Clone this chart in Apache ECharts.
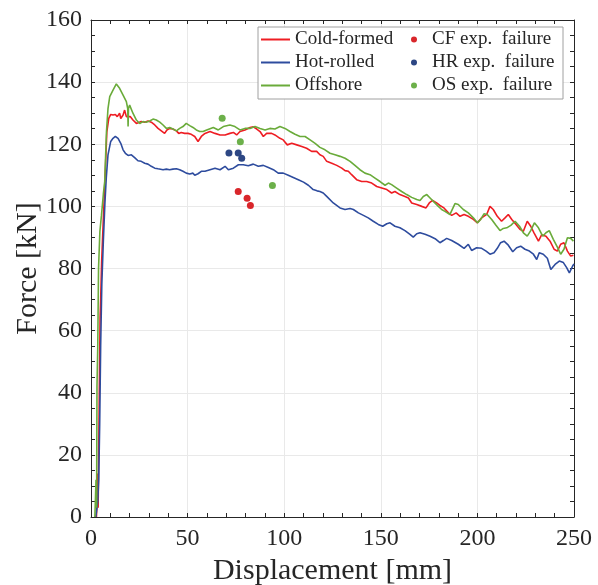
<!DOCTYPE html>
<html>
<head>
<meta charset="utf-8">
<script src="https://cdn.jsdelivr.net/npm/echarts@6/dist/echarts.min.js"></script>
<style>
  html, body { margin: 0; padding: 0; background: #fff; }
  #chart { width: 598px; height: 585px; }
</style>
</head>
<body>
<div id="chart"></div>
<script>
// ---- data ----
const xTicks = [0, 50, 100, 150, 200, 250];
const yTicks = [0, 20, 40, 60, 80, 100, 120, 140, 160];

const coldFormed = [[2.8,0],[3.3,7],[3.5,14],[3.7,3],[4.3,40],[4.7,64],[5.0,70],[5.5,82],[6.2,93],[7.0,105],[7.6,114.5],[8.2,124],[9.2,128.3],[10.2,129.6],[11.4,129.4],[12.6,129.6],[13.6,128.9],[14.8,130.0],[15.4,128.3],[16.6,129.4],[17.4,131.0],[18.3,128.9],[19.2,129.4],[20.3,128.9],[21.7,127.8],[23.5,126.7],[24.3,126.2],[26.0,127.3],[27.8,127.1],[29.5,127.5],[31.2,127.1],[33.0,126.2],[34.7,125.1],[36.4,124.3],[38.1,123.5],[39.3,124.6],[40.7,125.1],[42.4,124.9],[44.2,124.3],[45.4,123.5],[46.7,123.8],[48.5,123.5],[50.2,123.5],[51.9,123.2],[53.7,122.5],[55.4,120.9],[57.1,122.5],[59.0,123.5],[61.6,124.1],[64.2,123.5],[66.8,123.0],[69.4,123.0],[71.9,123.5],[73.7,123.8],[75.4,123.0],[77.1,124.1],[79.7,124.6],[82.3,125.4],[84.0,125.6],[85.8,124.9],[87.5,124.1],[89.2,122.5],[90.9,123.5],[93.5,123.5],[95.2,123.0],[97.8,121.9],[99.5,121.4],[101.6,119.8],[103.9,120.3],[106.5,119.8],[109.1,119.3],[111.6,118.7],[114.2,117.7],[116.8,117.7],[118.5,116.6],[120.2,116.1],[122.0,114.5],[124.6,113.9],[127.2,113.2],[129.8,112.3],[131.5,111.5],[133.2,111.3],[134.9,110.2],[137.5,108.6],[140.1,108.0],[142.7,108.0],[145.3,107.5],[147.9,106.4],[150.5,105.9],[153.1,105.4],[155.6,104.3],[157.3,104.8],[159.9,103.8],[162.5,103.2],[164.3,102.7],[166.0,101.1],[168.6,100.6],[171.2,100.0],[173.4,99.5],[175.1,101.1],[176.8,101.9],[178.9,101.1],[180.6,100.3],[182.7,99.5],[185.0,97.9],[186.7,97.1],[189.0,97.9],[191.0,96.8],[193.1,97.4],[195.3,96.8],[197.9,95.8],[200.0,94.7],[202.2,96.3],[204.8,97.4],[206.5,100.0],[208.2,99.0],[210.3,96.8],[212.5,95.2],[214.3,96.3],[216.0,97.4],[217.8,95.8],[220.0,94.2],[222.0,92.6],[223.8,92.0],[225.8,95.2],[227.6,93.6],[229.3,91.5],[231.6,88.8],[233.3,90.9],[235.5,90.4],[237.6,88.8],[239.7,86.2],[241.4,85.6],[243.1,87.8],[244.8,88.3],[246.6,85.6],[248.3,84.0],[249.7,84.3]];

const hotRolled = [[2.5,0],[3.5,5],[4.0,12],[4.5,30],[5.0,55],[5.6,75],[6.4,89],[7.2,101],[7.9,109.1],[8.8,116.6],[10.2,120.9],[11.4,121.9],[12.6,122.5],[14.0,121.9],[15.4,120.3],[16.6,118.2],[17.8,117.1],[19.2,116.4],[20.9,116.6],[22.6,115.7],[24.3,114.7],[26.0,114.5],[27.8,113.9],[29.5,113.6],[31.2,112.9],[33.0,112.3],[34.7,112.1],[35.6,112.5],[37.3,111.8],[39.0,112.0],[40.7,111.8],[42.4,112.0],[44.2,112.1],[45.9,111.8],[47.6,111.3],[49.3,110.7],[51.1,110.4],[52.8,110.7],[53.7,110.0],[55.4,110.5],[57.1,111.3],[59.0,111.3],[61.6,111.8],[64.2,112.3],[66.8,111.8],[69.4,112.9],[71.1,111.8],[73.7,112.3],[76.3,113.4],[78.8,113.4],[81.4,113.1],[84.0,113.6],[86.6,112.9],[89.2,113.2],[91.8,112.5],[94.4,111.8],[96.9,110.7],[99.5,110.7],[102.1,110.0],[104.7,109.3],[107.3,108.6],[110.0,107.8],[112.5,106.8],[115.0,105.4],[117.0,105.0],[118.5,104.8],[120.2,104.3],[122.0,103.2],[125.4,101.1],[128.9,99.5],[131.5,99.0],[134.1,99.3],[135.8,99.0],[138.4,97.9],[141.0,97.1],[143.5,96.3],[146.1,95.2],[148.7,94.2],[151.0,93.6],[153.1,94.4],[154.8,94.7],[157.3,93.6],[159.9,93.1],[162.5,92.2],[165.1,91.0],[166.8,90.1],[168.6,91.2],[170.3,91.5],[172.9,91.0],[175.5,90.4],[178.1,89.6],[180.6,88.3],[182.4,89.0],[184.1,89.7],[186.7,89.0],[190.1,87.8],[193.1,86.5],[195.3,87.8],[197.0,85.8],[199.6,86.7],[202.2,86.5],[204.5,85.6],[206.5,84.6],[208.6,85.1],[210.3,86.5],[212.0,88.3],[213.8,88.8],[216.0,87.5],[218.3,85.4],[220.3,86.7],[222.4,87.2],[224.6,86.2],[226.9,85.6],[229.0,84.6],[230.7,82.9],[232.0,85.1],[234.1,84.6],[236.2,83.3],[238.0,79.7],[240.2,81.3],[242.4,82.4],[244.5,81.9],[246.2,80.3],[247.6,78.6],[249.3,80.8],[250,81.5]];

const offshore = [[2.0,0],[2.6,12],[2.9,3],[3.1,42],[3.5,55],[3.9,80],[4.6,92],[5.4,97],[6.4,104],[7.1,108],[8.0,124],[8.8,131.5],[9.7,135.3],[10.5,135.8],[11.4,137.4],[13.1,139.4],[14.8,138.0],[16.6,135.8],[18.3,133.7],[19.0,131.5],[19.2,125.7],[19.4,131.5],[20.0,132.6],[21.7,130.0],[23.5,127.8],[25.2,126.7],[26.9,127.3],[28.6,127.1],[30.4,127.5],[32.1,128.1],[33.8,127.8],[35.6,127.1],[37.3,126.2],[39.0,125.1],[40.7,125.4],[42.4,124.9],[44.2,124.3],[45.9,125.1],[47.6,125.7],[49.3,126.7],[51.1,126.0],[52.8,125.4],[54.5,124.6],[56.3,124.1],[58.0,124.1],[59.9,124.6],[61.6,125.0],[63.3,125.4],[65.9,124.6],[68.5,125.7],[71.9,126.2],[74.5,125.7],[77.1,124.6],[79.7,125.1],[82.3,125.1],[84.9,125.7],[87.5,125.1],[90.1,124.6],[92.6,125.1],[95.2,124.9],[97.8,125.7],[100.4,125.1],[103.0,124.1],[105.6,123.2],[108.2,122.5],[110.8,122.5],[113.4,121.4],[116.0,120.3],[118.5,119.0],[121.1,118.2],[123.7,117.1],[126.3,116.6],[128.9,116.1],[131.5,115.5],[134.1,114.5],[136.6,113.2],[139.2,111.8],[141.8,110.7],[144.4,110.2],[147.0,109.1],[149.6,108.0],[152.2,106.8],[153.9,107.5],[155.6,107.0],[158.2,105.9],[160.8,104.8],[163.4,103.8],[166.0,102.9],[168.6,102.2],[170.3,101.9],[172.0,103.2],[173.8,103.8],[175.5,102.7],[177.2,101.6],[179.8,100.0],[181.5,99.0],[183.2,98.4],[185.8,97.4],[188.4,100.9],[190.1,100.6],[192.7,99.0],[195.3,97.9],[197.9,96.3],[200.0,94.7],[201.7,95.8],[203.4,97.6],[205.1,97.4],[207.4,95.8],[209.6,93.9],[211.7,92.2],[213.4,92.9],[215.2,93.1],[217.3,93.9],[219.5,95.2],[221.8,93.6],[223.8,91.5],[225.8,90.4],[227.6,92.2],[229.5,94.7],[231.6,93.1],[233.8,90.4],[235.5,91.5],[237.2,92.2],[239.3,89.4],[241.4,86.9],[243.1,84.6],[244.8,86.2],[246.6,89.9],[248.3,89.7],[249.7,88.8]];

const cfFailure = [[76.2,104.8],[80.8,102.6],[82.5,100.3]];
const hrFailure = [[71.4,117.2],[76.2,117.2],[78.0,115.5]];
const osFailure = [[67.9,128.4],[77.3,120.8],[93.9,106.7]];

const lineNames = ['Cold-formed', 'Hot-rolled', 'Offshore'];
const dotNames = ['CF exp.  failure', 'HR exp.  failure', 'OS exp.  failure'];

// ---- styling ----
const FONT = 'Liberation Serif';
const INK = '#262626';
const C_RED = '#ee1d23', C_BLUE = '#2e4c9e', C_GREEN = '#6aab3a';
const D_RED = '#d9262b', D_BLUE = '#2d4784', D_GREEN = '#6cb04a';

function axisCommon(min, max, interval, minorSplit) {
  return {
    type: 'value', min: min, max: max, interval: interval,
    axisLine: { show: true, onZero: false, lineStyle: { color: INK, width: 1 } },
    axisTick: { show: true, inside: true, length: 4, lineStyle: { color: INK } },
    minorTick: { show: true, splitNumber: minorSplit, length: 4, lineStyle: { color: INK } },
    splitLine: { show: false }
  };
}

const xBottom = Object.assign(axisCommon(xTicks[0], xTicks[xTicks.length - 1], xTicks[1] - xTicks[0], 5), {
  position: 'bottom',
  name: 'Displacement [mm]', nameLocation: 'middle', nameGap: 39, nameMoveOverlap: false,
  nameTextStyle: { fontFamily: FONT, fontSize: 30, color: INK },
  axisLabel: { show: true, margin: 10, fontFamily: FONT, fontSize: 24, color: INK },
  splitLine: { show: true, lineStyle: { color: '#e9e9e9', width: 1 } }
});
const xTop = Object.assign(axisCommon(xTicks[0], xTicks[xTicks.length - 1], xTicks[1] - xTicks[0], 5), {
  position: 'top', axisLabel: { show: false }
});
const yLeft = Object.assign(axisCommon(yTicks[0], yTicks[yTicks.length - 1], yTicks[1] - yTicks[0], 4), {
  position: 'left',
  name: 'Force [kN]', nameLocation: 'middle', nameGap: 48, nameRotate: 90, nameMoveOverlap: false,
  nameTextStyle: { fontFamily: FONT, fontSize: 30, color: INK },
  axisLabel: { show: true, margin: 9, fontFamily: FONT, fontSize: 24, color: INK },
  splitLine: { show: true, lineStyle: { color: '#e9e9e9', width: 1 } }
});
const yRight = Object.assign(axisCommon(yTicks[0], yTicks[yTicks.length - 1], yTicks[1] - yTicks[0], 4), {
  position: 'right', axisLabel: { show: false }
});

function lineSeries(name, data, color) {
  return {
    name: name, type: 'line', data: data, xAxisIndex: 0, yAxisIndex: 0,
    showSymbol: false, symbol: 'none', smooth: false, z: 2,
    lineStyle: { color: color, width: 1.6 }, itemStyle: { color: color },
    emphasis: { disabled: true }, animation: false
  };
}
function dotSeries(name, data, color) {
  return {
    name: name, type: 'scatter', data: data, xAxisIndex: 0, yAxisIndex: 0,
    symbol: 'circle', symbolSize: 7, z: 3,
    itemStyle: { color: color, opacity: 1 }, emphasis: { disabled: true }, animation: false
  };
}

const legendText = { fontFamily: FONT, fontSize: 19, color: INK };

const option = {
  backgroundColor: '#ffffff',
  animation: false,
  grid: { left: 91, top: 20, width: 483, height: 497, containLabel: false, outerBoundsMode: 'none' },
  xAxis: [xBottom, xTop],
  yAxis: [yLeft, yRight],
  graphic: [{
    type: 'rect', z: 3, silent: true,
    shape: { x: 258, y: 27, width: 305, height: 72 },
    style: { fill: '#ffffff', stroke: '#a0a0a0', lineWidth: 1 }
  }],
  legend: [{
    data: lineNames.map(n => ({ name: n, icon: 'rect' })), orient: 'vertical', left: 261, top: 30,
    itemWidth: 29, itemHeight: 2, itemGap: 4, padding: 0, z: 5,
    textStyle: legendText, selectedMode: false
  }, {
    data: dotNames.map(n => ({ name: n, icon: 'circle' })), orient: 'vertical', left: 411, top: 30,
    itemWidth: 26, itemHeight: 6, itemGap: 4, padding: 0, z: 5,
    textStyle: legendText, selectedMode: false
  }],
  series: [
    lineSeries(lineNames[0], coldFormed, C_RED),
    lineSeries(lineNames[1], hotRolled, C_BLUE),
    lineSeries(lineNames[2], offshore, C_GREEN),
    dotSeries(dotNames[0], cfFailure, D_RED),
    dotSeries(dotNames[1], hrFailure, D_BLUE),
    dotSeries(dotNames[2], osFailure, D_GREEN)
  ]
};

const chart = echarts.init(document.getElementById('chart'), null, { renderer: 'canvas' });
chart.setOption(option);
</script>
</body>
</html>
